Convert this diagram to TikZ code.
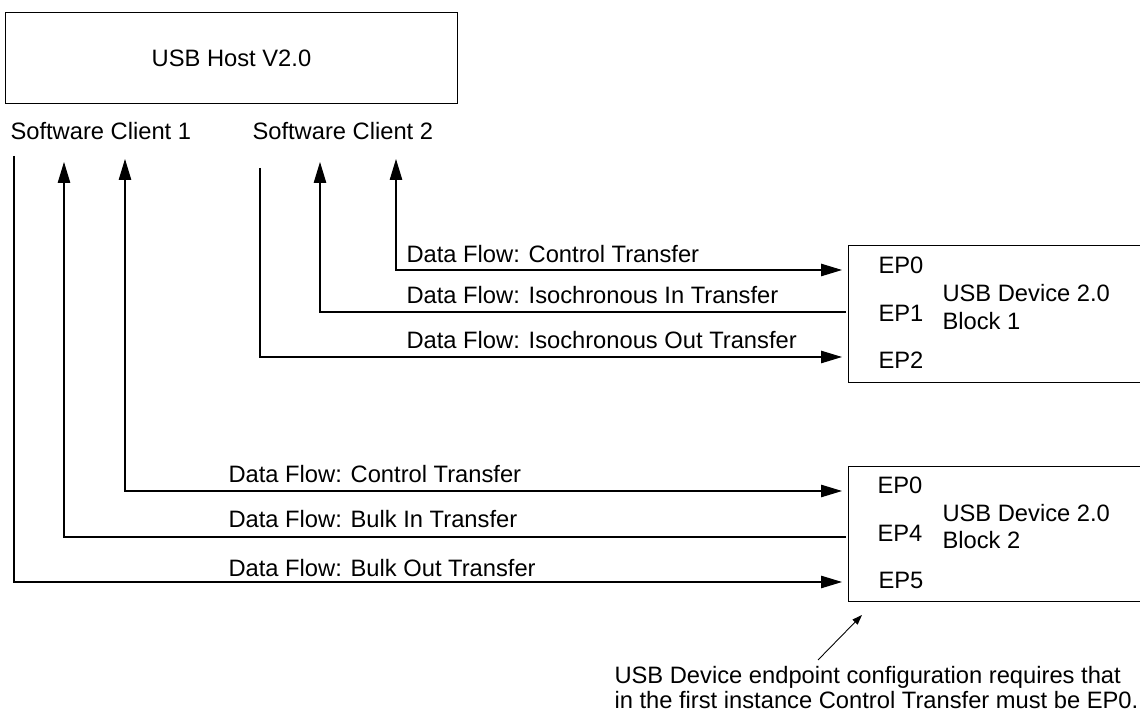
\documentclass[tikz,border=0pt]{standalone}
\usepackage{fontspec}
\setmainfont{Liberation Sans}
\usetikzlibrary{arrows.meta}

\begin{document}
\begin{tikzpicture}[x=0.02cm, y=-0.02cm, line width=0.6pt, line join=miter,
  >={Triangle[length=0.42cm,width=0.25cm]},
  txt/.style={font=\fontsize{13.5}{16}\selectfont, inner sep=0pt, anchor=base west},
  box/.style={draw, inner sep=0pt, anchor=north west, font=\fontsize{13.5}{16}\selectfont},
  hint/.style={-{Triangle[length=0.2cm,width=0.14cm]}, line width=0.5pt}]
\useasboundingbox (0,0) rectangle (1140,715);
\clip (0,0) rectangle (1140,715);

% host and clients
\node[box, minimum width=9.04cm, minimum height=1.82cm] (host) at (5,12) {USB Host V2.0};
\node[txt] (client1) at (10,140) {Software Client 1};
\node[txt] (client2) at (252,140) {Software Client 2};

\coordinate (c1a) at (14,156);
\coordinate (c1b) at (64,162);
\coordinate (c1c) at (125,159);
\coordinate (c2a) at (260,168);
\coordinate (c2b) at (320,162);
\coordinate (c2c) at (396,159);

% device blocks
\node[box, minimum width=6.4cm, minimum height=2.74cm] (dev1) at (848,245) {};
\node[box, minimum width=6.4cm, minimum height=2.7cm] (dev2) at (848,466) {};

\node[txt] (d1ep0) at (878,274) {EP0};
\node[txt] (d1ep1) at (878,322) {EP1};
\node[txt] (d1ep2) at (878,369) {EP2};
\node[txt] (d1name) at (942,302) {USB Device 2.0};
\node[txt] (d1blk) at (942,330) {Block 1};

\node[txt] (d2ep0) at (877,494) {EP0};
\node[txt] (d2ep4) at (877,542) {EP4};
\node[txt] (d2ep5) at (878,589) {EP5};
\node[txt] (d2name) at (942,522) {USB Device 2.0};
\node[txt] (d2blk) at (942,549) {Block 2};

\coordinate (d1in0) at (842,270);
\coordinate (d1in1) at (846,312);
\coordinate (d1in2) at (842,357);
\coordinate (d2in0) at (842,491);
\coordinate (d2in4) at (846,537);
\coordinate (d2in5) at (842,582);

% data flows
\draw[<->] (c2c) |- (d1in0);
\draw[->] (d1in1) -| (c2b);
\draw[->] (c2a) |- (d1in2);
\node[txt] (fl1) at (406,263) {Data Flow: Control Transfer};
\node[txt] (fl2) at (406,304) {Data Flow: Isochronous In Transfer};
\node[txt] (fl3) at (406,349) {Data Flow: Isochronous Out Transfer};

\draw[<->] (c1c) |- (d2in0);
\draw[->] (d2in4) -| (c1b);
\draw[->] (c1a) |- (d2in5);
\node[txt] (fl4) at (228,483) {Data Flow: Control Transfer};
\node[txt] (fl5) at (228,528) {Data Flow: Bulk In Transfer};
\node[txt] (fl6) at (228,577) {Data Flow: Bulk Out Transfer};

% note
\coordinate (ptip) at (862,615);
\coordinate (ptail) at (818,660);
\draw[hint] (ptail) -- (ptip);
\node[txt] (note1) at (614,684) {USB Device endpoint configuration requires that};
\node[txt] (note2) at (614,709) {in the first instance Control Transfer must be EP0.};

\end{tikzpicture}
\end{document}
